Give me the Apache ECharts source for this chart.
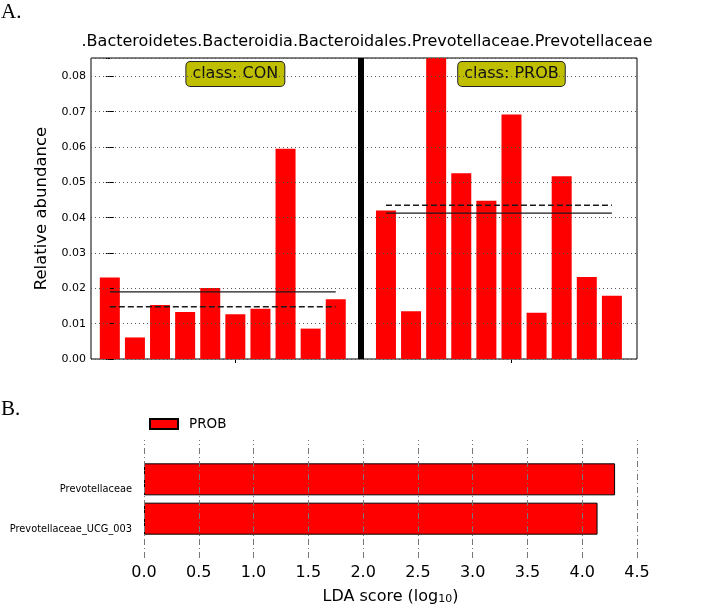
<!DOCTYPE html>
<html>
<head>
<meta charset="utf-8">
<script src="https://cdn.jsdelivr.net/npm/echarts@6/dist/echarts.min.js"></script>
<style>
html, body { margin: 0; padding: 0; background: #fff; }
#main { width: 709px; height: 606px; }
</style>
</head>
<body>
<div id="main"></div>
<script>
// panel A: relative abundance per sample
var titleText = '.Bacteroidetes.Bacteroidia.Bacteroidales.Prevotellaceae.Prevotellaceae';
var conVals = [0.0231, 0.0061, 0.0153, 0.0133, 0.0201, 0.0127, 0.0142, 0.0595, 0.0086, 0.0169];
var probVals = [0.0420, 0.0135, 0.0852, 0.0526, 0.0448, 0.0692, 0.0131, 0.0517, 0.0232, 0.0179];
var conMean = 0.0190, conMedian = 0.0148;
var probMean = 0.0413, probMedian = 0.0435;
var abundMax = 0.0852;
var classNames = ['class: CON', 'class: PROB'];
var classPos = [5, 16];

// panel B: LDA scores
var ldaNames = ['Prevotellaceae_UCG_003', 'Prevotellaceae'];
var ldaVals = [4.14, 4.30];
var ldaTicks = [0, 0.5, 1, 1.5, 2, 2.5, 3, 3.5, 4, 4.5];

var FONT = 'DejaVu Sans';
var RED = '#ff0000';

var myChart = echarts.init(document.getElementById('main'));

var conData = conVals.map(function (v, i) { return [i, v]; });
var probData = probVals.map(function (v, i) { return [11 + i, v]; });
var firstProb = 11, lastProb = 11 + probVals.length - 1;

function hLine(x0, x1, y, dashed) {
    return {
        type: 'line',
        xAxisIndex: 0, yAxisIndex: 0,
        data: [[x0, y], [x1, y]],
        symbol: 'none',
        silent: true,
        z: 4,
        lineStyle: { color: '#1a1a1a', width: dashed ? 1.6 : 1.3, type: dashed ? [6, 3] : 'solid' }
    };
}

option = {
    animation: false,
    textStyle: { fontFamily: FONT },
    graphic: [
        { type: 'text', x: 1, y: 12, style: { text: 'A.', fontFamily: 'Liberation Serif', fontSize: 21, fill: '#000', verticalAlign: 'middle' } },
        { type: 'text', x: 1, y: 409, style: { text: 'B.', fontFamily: 'Liberation Serif', fontSize: 21, fill: '#000', verticalAlign: 'middle' } },
        { type: 'text', x: 367, y: 42, style: { text: titleText, fontFamily: FONT, fontSize: 16, fill: '#000', align: 'center', verticalAlign: 'middle' } }
    ],
    legend: {
        data: ['PROB'],
        left: 149,
        top: 417,
        padding: 0,
        icon: 'rect',
        itemWidth: 28,
        itemHeight: 10,
        textStyle: { fontFamily: FONT, fontSize: 13.5, color: '#000', padding: [0, 0, 0, 6] }
    },
    grid: [
        { left: 91, top: 58, width: 546, height: 301, show: true, borderColor: '#000', borderWidth: 1, backgroundColor: 'transparent' },
        { left: 144, top: 440, width: 493, height: 119 }
    ],
    xAxis: [
        {
            type: 'value', gridIndex: 0, min: -0.75, max: 21, position: 'bottom',
            axisLine: { show: false },
            axisLabel: { show: false },
            splitLine: { show: false },
            axisTick: { show: true, inside: true, length: 4, customValues: classPos, lineStyle: { color: '#000' } }
        },
        {
            type: 'value', gridIndex: 0, min: -0.75, max: 21, position: 'top',
            axisLine: { show: false },
            splitLine: { show: false },
            axisTick: { show: true, inside: true, length: 4, customValues: classPos, lineStyle: { color: '#000' } },
            axisLabel: {
                show: true, inside: true, margin: 4,
                customValues: classPos,
                formatter: function (v) { return classNames[classPos.indexOf(v)] || ''; },
                fontFamily: FONT, fontSize: 16, color: '#111',
                backgroundColor: '#bfbf00', borderColor: '#222', borderWidth: 1, borderRadius: 4,
                padding: [4, 6, 4, 6]
            }
        },
        {
            type: 'value', gridIndex: 1, min: 0, max: 4.5, interval: 0.5,
            axisLine: { show: false },
            axisTick: { show: false },
            splitLine: { show: false },
            axisLabel: {
                fontFamily: FONT, fontSize: 16, color: '#000', margin: 7,
                formatter: function (v) { return v.toFixed(1); }
            },
            name: '{m|LDA score (log}{s|10}{m|)}',
            nameLocation: 'middle',
            nameGap: 30,
            nameTextStyle: {
                rich: {
                    m: { fontFamily: FONT, fontSize: 16, color: '#000' },
                    s: { fontFamily: FONT, fontSize: 11, color: '#000', padding: [6, 0, 0, 0] }
                }
            }
        }
    ],
    yAxis: [
        {
            type: 'value', gridIndex: 0, min: 0, max: abundMax, interval: 0.01, z: 5,
            axisLine: { show: false },
            axisTick: { show: true, inside: true, length: 4, lineStyle: { color: '#000' } },
            axisLabel: {
                showMaxLabel: false, fontFamily: FONT, fontSize: 11, color: '#000', margin: 5,
                formatter: function (v) { return v > 0.0805 ? '' : v.toFixed(2); }
            },
            splitLine: { show: true, lineStyle: { color: '#555', width: 1, type: [1, 3] } },
            name: 'Relative abundance',
            nameLocation: 'middle',
            nameGap: 35,
            nameTextStyle: { fontFamily: FONT, fontSize: 16.5, color: '#000' }
        },
        {
            type: 'value', gridIndex: 0, min: 0, max: abundMax, interval: 0.01, position: 'right',
            axisLine: { show: false },
            axisTick: { show: true, inside: true, length: 4, lineStyle: { color: '#000' } },
            axisLabel: { show: false },
            splitLine: { show: false }
        },
        {
            type: 'category', gridIndex: 1, boundaryGap: false,
            data: [''].concat(ldaNames).concat(['']),
            axisLine: { show: false },
            axisTick: { show: false },
            splitLine: { show: false },
            axisLabel: {
                interval: 0, fontFamily: FONT, fontSize: 9.8, color: '#000', margin: 12,
                verticalAlign: 'top', lineHeight: 21
            }
        }
    ],
    series: [
        {
            name: 'CON samples', type: 'bar', xAxisIndex: 0, yAxisIndex: 0,
            data: conData, barWidth: 20, barGap: '-100%',
            itemStyle: { color: RED },
            markLine: {
                silent: true, symbol: 'none', label: { show: false },
                lineStyle: { color: '#000', width: 6, type: 'solid' },
                data: [{ xAxis: 10 }]
            }
        },
        {
            name: 'PROB samples', type: 'bar', xAxisIndex: 0, yAxisIndex: 0,
            data: probData, barWidth: 20, barGap: '-100%',
            itemStyle: { color: RED }
        },
        hLine(0, conVals.length - 1, conMean, false),
        hLine(0, conVals.length - 1, conMedian, true),
        hLine(firstProb, lastProb, probMean, false),
        hLine(firstProb, lastProb, probMedian, true),
        {
            name: 'PROB', type: 'bar', xAxisIndex: 2, yAxisIndex: 2,
            data: ldaVals.map(function (v, i) { return [v, ldaNames[i]]; }),
            barWidth: 32,
            itemStyle: { color: RED, borderColor: '#000', borderWidth: 1 },
            markLine: {
                silent: true, symbol: 'none', label: { show: false },
                lineStyle: { color: '#777', width: 1, type: [6, 3, 1, 3] },
                data: ldaTicks.map(function (t) { return { xAxis: t }; })
            }
        }
    ]
};
myChart.setOption(option);
</script>
</body>
</html>
